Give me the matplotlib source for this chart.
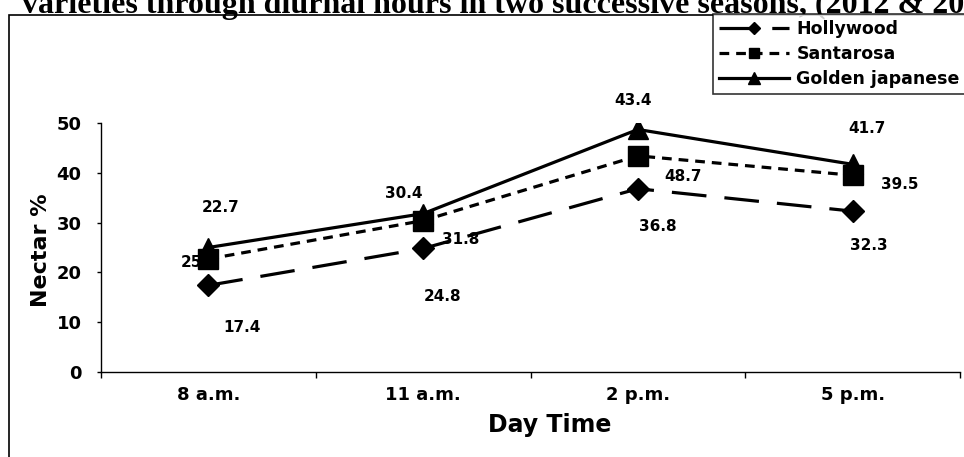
import matplotlib
matplotlib.use('Agg')
from matplotlib import pyplot as plt
from matplotlib.patches import Rectangle

plt.rcParams['font.family'] = ['DejaVu Sans']
plt.rcParams['font.weight'] = 'bold'
plt.rcParams['lines.scale_dashes'] = False

times = ['8 a.m.', '11 a.m.', '2 p.m.', '5 p.m.']
hollywood = [17.4, 24.8, 36.8, 32.3]
santarosa = [22.7, 30.4, 43.4, 39.5]
golden = [25.0, 31.8, 48.7, 41.7]

# label offsets in pixels (dx, dy) for each point
hollywood_off = [(34, -42), (19, -48), (20, -38), (16, -34)]
santarosa_off = [(12, 51), (-19, 27), (-5, 55), (47, -9)]
golden_off = [(-9, -15), (38, -26), (45, -47), (14, 36)]

W, H = 964, 457
fig = plt.figure(figsize=(W / 100, H / 100), dpi=100)
ax = fig.add_axes([101 / W, (H - 372) / H, (960 - 101) / W, (372 - 123) / H])

x = list(range(len(times)))
l1, = ax.plot(x, hollywood, color='black', lw=2.3, dashes=(25, 13),
              marker='D', ms=11, zorder=3)
l2, = ax.plot(x, santarosa, color='black', lw=2.3, dashes=(7, 5),
              marker='s', ms=14, zorder=3)
l3, = ax.plot(x, golden, color='black', lw=2.3, ls='-',
              marker='^', ms=15, zorder=3)

for vals, offs in [(hollywood, hollywood_off), (santarosa, santarosa_off),
                   (golden, golden_off)]:
    for i, (v, off) in enumerate(zip(vals, offs)):
        ax.annotate(f'{v:.1f}', (i, v), xytext=off, textcoords='offset pixels',
                    ha='center', va='center', fontsize=11, fontweight='bold',
                    zorder=2, annotation_clip=False)

ax.set_xlim(-0.5, 3.5)
ax.set_ylim(0, 50)
ax.set_yticks(range(0, 51, 10))
ax.set_xticks([-0.5, 0.5, 1.5, 2.5, 3.5])
ax.set_xticklabels([])
ax.set_xticks(x, minor=True)
ax.set_xticklabels(times, minor=True)
ax.tick_params(axis='x', which='major', direction='out', length=4.5, width=1)
ax.tick_params(axis='x', which='minor', length=0, pad=10, labelsize=13)
ax.tick_params(axis='y', direction='out', length=3, width=1, pad=11, labelsize=13)
for s in ['top', 'right']:
    ax.spines[s].set_visible(False)
for s in ['left', 'bottom']:
    ax.spines[s].set_linewidth(1)

fig.text(41 / W, 1 - 250 / H, 'Nectar %', rotation=90, ha='center', va='center',
         fontsize=16, fontweight='bold')
fig.text(550 / W, 1 - 425 / H, 'Day Time', ha='center', va='center',
         fontsize=17, fontweight='bold')

fig.text(22 / W, 1 - 13 / H,
         'varieties through diurnal hours in two successive seasons, (2012 & 2013)',
         family='Liberation Serif', fontweight='bold', fontsize=23, va='baseline')

# outer frame
fig.patches.append(Rectangle((9 / W, -0.2), 1.2, 1.2 - 15 / H, transform=fig.transFigure,
                             fill=False, ec='black', lw=1.2))

leg = fig.legend([l1, l2, l3], ['Hollywood', 'Santarosa', 'Golden japanese'],
                 loc='upper left', bbox_to_anchor=(713 / W, 1 - 14 / H),
                 bbox_transform=fig.transFigure, borderaxespad=0, fontsize=12.5,
                 handlelength=4.0, handletextpad=0.45, labelspacing=0.4,
                 borderpad=0.35, fancybox=False, frameon=True, numpoints=1,
                 markerscale=0.55)
leg.get_frame().set_edgecolor('black')
leg.get_frame().set_linewidth(1.2)

fig.savefig('out.png', dpi=100)
